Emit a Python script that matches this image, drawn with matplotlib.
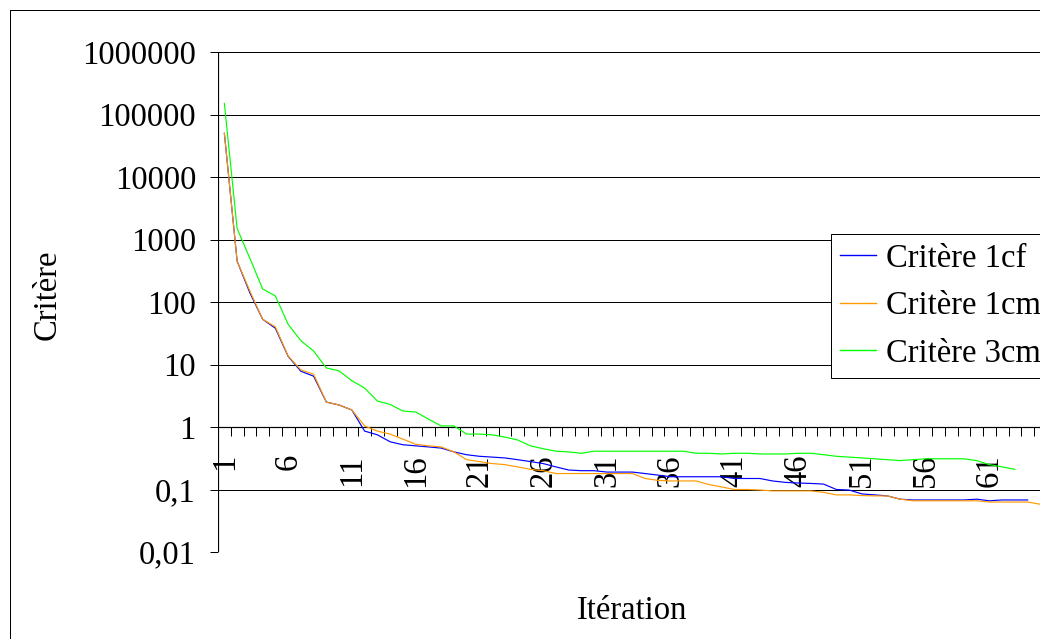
import matplotlib
matplotlib.use("Agg")
import matplotlib.pyplot as plt
from matplotlib.ticker import FixedLocator, NullLocator
from matplotlib.lines import Line2D

# ---------------- data ----------------
series_names = ["Critère 1cf", "Critère 1cm", "Critère 3cm"]
n_categories = 65
tick_label_iters = [1, 6, 11, 16, 21, 26, 31, 36, 41, 46, 51, 56, 61]

crit_1cf = [50000, 450, 140, 53, 38, 13.5, 7.8, 6.5, 2.5, 2.25,
            1.87, 0.86, 0.75, 0.58, 0.52, 0.50, 0.48, 0.46, 0.40, 0.36,
            0.34, 0.33, 0.32, 0.30, 0.28, 0.26, 0.23, 0.205, 0.20, 0.20,
            0.19, 0.19, 0.19, 0.18, 0.17, 0.16, 0.16, 0.16, 0.16, 0.16,
            0.15, 0.15, 0.15, 0.137, 0.13, 0.127, 0.125, 0.122, 0.10, 0.098,
            0.085, 0.082, 0.079, 0.070, 0.068, 0.068, 0.068, 0.068, 0.068, 0.070,
            0.066, 0.068, 0.068, 0.068]

crit_1cm = [50000, 450, 150, 53, 40, 13.7, 8.2, 7.0, 2.5, 2.25,
            1.87, 1.04, 0.86, 0.77, 0.64, 0.53, 0.50, 0.48, 0.40, 0.30,
            0.28, 0.26, 0.25, 0.23, 0.21, 0.20, 0.18, 0.18, 0.18, 0.18,
            0.18, 0.18, 0.18, 0.15, 0.14, 0.137, 0.137, 0.137, 0.12, 0.11,
            0.10, 0.10, 0.098, 0.095, 0.095, 0.095, 0.095, 0.09, 0.082, 0.082,
            0.080, 0.079, 0.079, 0.070, 0.066, 0.066, 0.066, 0.066, 0.066, 0.066,
            0.063, 0.063, 0.063, 0.063, 0.058]

crit_3cm = [150000, 1500, 500, 162, 125, 44, 24, 16.4, 8.8, 7.9,
            5.5, 4.2, 2.6, 2.3, 1.8, 1.74, 1.34, 1.04, 1.04, 0.77,
            0.77, 0.75, 0.69, 0.62, 0.50, 0.45, 0.41, 0.40, 0.38, 0.41,
            0.41, 0.41, 0.41, 0.41, 0.41, 0.41, 0.41, 0.38, 0.38, 0.37,
            0.38, 0.38, 0.37, 0.37, 0.37, 0.38, 0.38, 0.36, 0.34, 0.33,
            0.32, 0.31, 0.30, 0.29, 0.30, 0.31, 0.31, 0.31, 0.31, 0.29,
            0.25, 0.23, 0.21]

y_tick_values = [0.01, 0.1, 1, 10, 100, 1000, 10000, 100000, 1000000]
y_tick_labels = ["0,01", "0,1", "1", "10", "100", "1000", "10000", "100000", "1000000"]

colors = ["#0000FF", "#FF9900", "#00FF00"]

# ---------------- figure ----------------
plt.rcParams["font.family"] = ["Liberation Serif", "DejaVu Serif"]
FS = 23.5
W, H = 1040, 639
fig = plt.figure(figsize=(W / 100, H / 100), dpi=100)

px = 72 / 100  # points per pixel

left_px, right_px, top_px, bottom_px = 218, 218 + 65 * 12.75, 52, 552
ax = fig.add_axes([left_px / W, (H - bottom_px) / H,
                   (right_px - left_px) / W, (bottom_px - top_px) / H])
ax.patch.set_alpha(0)

for vals, c, name in zip([crit_1cf, crit_1cm, crit_3cm], colors, series_names):
    xs = list(range(1, len(vals) + 1))
    ax.plot(xs, vals, color=c, lw=0.85, label=name, zorder=3)

ax.set_yscale("log")
ax.set_ylim(0.01, 1000000)
ax.set_xlim(0.5, n_categories + 0.5)

ax.yaxis.set_major_locator(FixedLocator(y_tick_values))
ax.yaxis.set_minor_locator(NullLocator())
ax.set_yticklabels(y_tick_labels)
ax.grid(axis="y", which="major", color="black", lw=1.0 * px)

ax.set_xticks(tick_label_iters)
ax.set_xticklabels([str(v) for v in tick_label_iters])
ax.xaxis.set_minor_locator(FixedLocator([k + 0.5 for k in range(0, n_categories + 1)]))

ax.spines["bottom"].set_position(("data", 1))
ax.spines["bottom"].set_linewidth(1.2 * px)
ax.spines["left"].set_visible(False)
ax.spines["right"].set_visible(False)
ax.spines["top"].set_visible(False)
ax.axvline(0.5, color="black", lw=1.2 * px, zorder=2.5)

ax.tick_params(axis="y", which="major", length=8 * px, width=1.0 * px,
               pad=14 * px, labelsize=FS, direction="out")
ax.tick_params(axis="x", which="major", length=0, pad=27 * px, labelsize=FS,
               labelrotation=90)
ax.tick_params(axis="x", which="minor", length=9 * px, width=1.0 * px, direction="out")
for lbl in ax.get_xticklabels():
    lbl.set_verticalalignment("top")
    lbl.set_horizontalalignment("center")

# axis titles
fig.text(47 / W, 1 - 295 / H, "Critère", rotation=90, ha="center", va="center", fontsize=FS)
fig.text(632 / W, 1 - 611 / H, "Itération", ha="center", va="center", fontsize=FS)

# outer chart border (cut by the image edges on right and bottom)
fig.add_artist(Line2D([9.5 / W, 9.5 / W], [0, 1 - 9.5 / H], transform=fig.transFigure,
                      color="black", lw=1.0 * px))
fig.add_artist(Line2D([9.5 / W, 1.0], [1 - 9.5 / H, 1 - 9.5 / H], transform=fig.transFigure,
                      color="black", lw=1.0 * px))

# legend
handles, labels = ax.get_legend_handles_labels()
leg = fig.legend(handles, labels, loc="upper left",
                 bbox_to_anchor=(831 / W, 1 - 234 / H), bbox_transform=fig.transFigure,
                 borderaxespad=0, fontsize=FS, frameon=True, fancybox=False,
                 handlelength=1.1, handletextpad=0.3, borderpad=0.28, labelspacing=0.52)
leg.get_frame().set_edgecolor("black")
leg.get_frame().set_linewidth(1.0 * px)
leg.get_frame().set_alpha(1)
for ln in leg.get_lines():
    ln.set_linewidth(1.0)

fig.savefig("out.png", dpi=100)
